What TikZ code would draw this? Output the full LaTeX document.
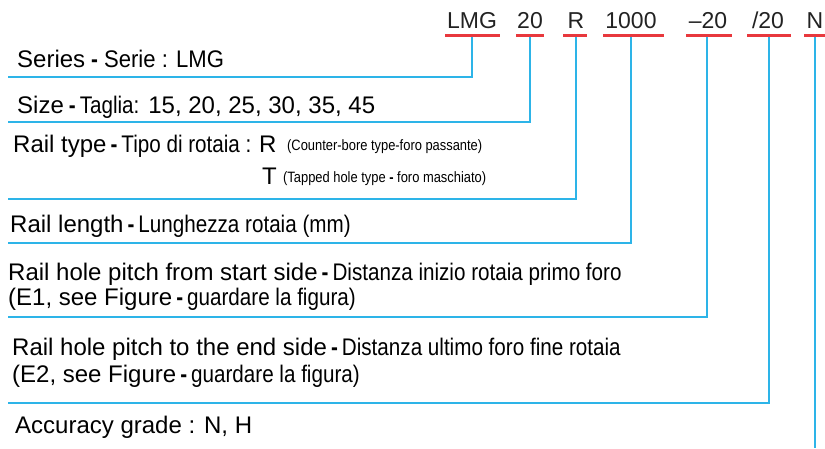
\documentclass[tikz,border=0pt]{standalone}
\usepackage{fontspec}
\setmainfont{Liberation Sans}
\newfontfamily\cn[FakeStretch=0.86]{Liberation Sans}
\newfontfamily\cnb[FakeStretch=0.92]{Liberation Sans}
\newcommand\dsh[2]{\hspace{#1}{\cn\bfseries -}\hspace{#2}}
\definecolor{cyanl}{HTML}{2DB4E8}
\definecolor{redl}{HTML}{E8383D}
\definecolor{codec}{HTML}{222222}
\begin{document}
\begin{tikzpicture}[x=1pt,y=-1pt,
  code/.style={anchor=base, inner sep=0pt, font=\fontsize{23}{23}\selectfont, text=codec},
  lbl/.style={anchor=base west, inner sep=0pt, font=\fontsize{24}{24}\selectfont},
  smalllbl/.style={anchor=base west, inner sep=0pt, font=\cn\fontsize{15}{15}\selectfont},
  redbar/.style={draw=redl, line width=3pt},
  leader/.style={draw=cyanl, line width=1.5pt}]
\useasboundingbox (0,0) rectangle (825,448);
% code characters
\node[code] (kLMG) at (472,28) {LMG};
\node[code] (kSize) at (530,28) {20};
\node[code] (kType) at (576,28) {R};
\node[code] (kLen) at (631,28) {1000};
\node[code] (kE1) at (708,28) {\textendash 20};
\node[code] (kE2) at (768,28) {/20};
\node[code] (kAcc) at (815,28) {N};
% red underlines
\draw[redbar] (445,35) -- (500,35);
\draw[redbar] (516,35) -- (544,35);
\draw[redbar] (563,35) -- (587,35);
\draw[redbar] (603,35) -- (664,35);
\draw[redbar] (686,35) -- (732,35);
\draw[redbar] (747,35) -- (791,35);
\draw[redbar] (804,35) -- (825,35);
% connector start points (below the red bars)
\coordinate (tLMG) at (472,36.5);
\coordinate (tSize) at (530,36.5);
\coordinate (tType) at (576,36.5);
\coordinate (tLen) at (631,36.5);
\coordinate (tE1) at (707,36.5);
\coordinate (tE2) at (769,36.5);
\coordinate (tAcc) at (815,36.5);
% connector end points
\coordinate (eSeries) at (8,77);
\coordinate (eSize) at (8,122);
\coordinate (eType) at (8,199);
\coordinate (eLen) at (8,243);
\coordinate (eE1) at (8,317);
\coordinate (eE2) at (8,403);
\coordinate (eAcc) at (815,448);
% labels
\node[lbl] (series) at (17,67) {Series\dsh{6pt}{6pt}{\cnb Serie : LMG}};
\node[lbl] (size) at (17,113) {Size\dsh{5pt}{4pt}{\cn Taglia:} 15, 20, 25, 30, 35, 45};
\node[lbl] (rtype) at (13,152) {Rail type\dsh{4pt}{4pt}{\cn Tipo di rotaia :}};
\node[lbl] (rtR) at (259,152) {R};
\node[smalllbl] (rtypeR) at (287,150) {(Counter-bore type-foro passante)};
\node[lbl] (rtT) at (262,184) {T};
\node[smalllbl] (rtypeT) at (283,182) {(Tapped hole type {\bfseries -} foro maschiato)};
\node[lbl] (rlen) at (10,232) {Rail length\dsh{4pt}{4pt}{\cn Lunghezza rotaia (mm)}};
\node[lbl] (e1a) at (8,280) {Rail hole pitch from start side\dsh{4pt}{4pt}{\cn Distanza inizio rotaia primo foro}};
\node[lbl] (e1b) at (8,305) {(E1, see Figure\dsh{4pt}{4pt}{\cn guardare la figura)}};
\node[lbl] (e2a) at (12,355) {Rail hole pitch to the end side\dsh{4pt}{4pt}{\cn Distanza ultimo foro fine rotaia}};
\node[lbl] (e2b) at (12,382) {(E2, see Figure\dsh{4pt}{4pt}{\cn guardare la figura)}};
\node[lbl] (acc) at (15,433) {Accuracy grade : N, H};
% connectors
\draw[leader] (tLMG) |- (eSeries);
\draw[leader] (tSize) |- (eSize);
\draw[leader] (tType) |- (eType);
\draw[leader] (tLen) |- (eLen);
\draw[leader] (tE1) |- (eE1);
\draw[leader] (tE2) |- (eE2);
\draw[leader] (tAcc) -- (eAcc);
\end{tikzpicture}
\end{document}
